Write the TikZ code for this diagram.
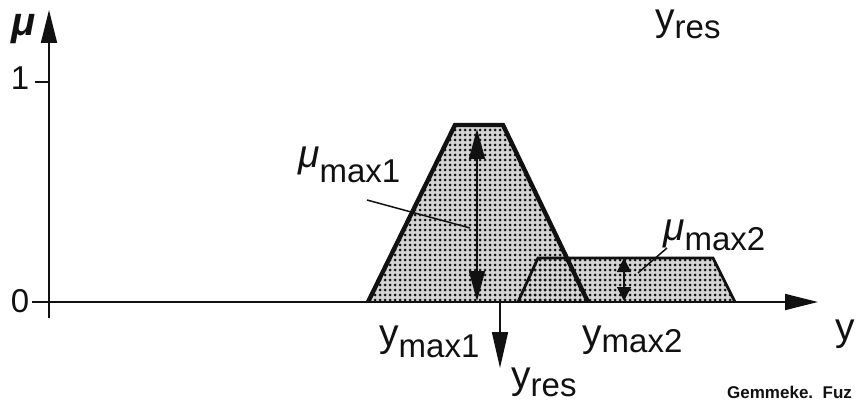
\documentclass[tikz,border=0pt]{standalone}
\usepackage{fontspec}
\setmainfont{Liberation Sans}
\usepackage{xcolor}
\usetikzlibrary{arrows.meta, patterns.meta}
\definecolor{ink}{HTML}{111111}
\tikzdeclarepattern{
  name=screendots,
  type=uncolored,
  bounding box={(-2.5pt,-2.5pt) and (2.5pt,2.5pt)},
  tile size={(5pt,5pt)},
  code={\fill (0pt,0pt) circle (1.5pt);}
}
\tikzset{
  axis/.style={line width=1.8pt, draw=ink},
  axisarrow/.style={axis, -{Triangle[length=33pt,width=16pt]}},
  tickline/.style={line width=1.8pt, draw=ink},
  setfill/.style={pattern=screendots, pattern color=ink},
  setback/.style={fill=ink!18},
  bigset/.style={line width=4.4pt, line join=miter, draw=ink},
  smallset/.style={line width=2.8pt, line join=miter, draw=ink},
  maxarrow/.style={line width=1.5pt, draw=ink, {Triangle[length=30pt,width=16pt]}-{Triangle[length=30pt,width=16pt]}},
  smallmaxarrow/.style={line width=1.5pt, draw=ink, {Triangle[length=14pt,width=14pt]}-{Triangle[length=14pt,width=14pt]}},
  resarrow/.style={line width=1.6pt, draw=ink, -{Triangle[length=36pt,width=16pt]}},
  leader/.style={line width=1.5pt, draw=ink},
  lbl/.style={inner sep=0pt, anchor=base west, text=ink}
}
\newcommand{\biglabel}{\fontsize{39}{41}\selectfont}
\newcommand{\sublabel}{\fontsize{33}{35}\selectfont}
\newcommand{\numlabel}{\fontsize{33}{35}\selectfont}
\newcommand{\smallnote}{\bfseries\fontsize{17}{19}\selectfont}

\begin{document}
\begin{tikzpicture}[x=1pt,y=1pt]
\useasboundingbox (0,0) rectangle (857,405);

% axes
\coordinate (origin) at (49,103);
\coordinate (ybottom) at (49,87);
\coordinate (ytop) at (49,395);
\coordinate (xleft) at (32,103);
\coordinate (xright) at (818,103);
\coordinate (onetick) at (35,323);
\coordinate (oneaxis) at (49,323);

% membership sets
\coordinate (a1) at (368,103);
\coordinate (a2) at (455,280);
\coordinate (a3) at (503,280);
\coordinate (a4) at (588,103);
\coordinate (b1) at (518,103);
\coordinate (b2) at (538,147);
\coordinate (b3) at (713,147);
\coordinate (b4) at (735,103);

\fill[setback] (a1) -- (a2) -- (a3) -- (a4) -- cycle;
\fill[setback] (b1) -- (b2) -- (b3) -- (b4) -- cycle;
\fill[setfill] (a1) -- (a2) -- (a3) -- (a4) -- cycle;
\fill[setfill] (b1) -- (b2) -- (b3) -- (b4) -- cycle;
\draw[smallset] (b1) -- (b2) -- (b3) -- (b4);
\draw[bigset] (a1) -- (a2) -- (a3) -- (a4);

\draw[axis] (ybottom) -- (oneaxis);
\draw[axisarrow] (oneaxis) -- (ytop);
\draw[axisarrow] (xleft) -- (xright);
\draw[tickline] (onetick) -- (oneaxis);

\node[lbl, anchor=base] (mu) at (24,369) {\bfseries\itshape\fontsize{40}{42}\selectfont μ};
\node[lbl, anchor=base] (one) at (20,315) {\numlabel 1};
\node[lbl, anchor=base] (zero) at (20,93) {\numlabel 0};
\node[lbl] (yaxis) at (835,65) {\biglabel y};

% heights
\coordinate (m1top) at (477,276);
\coordinate (m1bot) at (477,104);
\coordinate (m2top) at (624,147);
\coordinate (m2bot) at (624,104);
\draw[maxarrow] (m1bot) -- (m1top);
\draw[smallmaxarrow] (m2bot) -- (m2top);

\node[lbl] (mumax1) at (298,237) {{\biglabel\itshape μ}{\sublabel\raisebox{-15pt}{max1}}};
\node[lbl] (mumax2) at (663,165) {{\biglabel\itshape μ}{\sublabel\raisebox{-10pt}{max2}}};
\coordinate (l1a) at (367,205);
\coordinate (l1b) at (470,177);
\coordinate (l2a) at (667,157);
\coordinate (l2b) at (638,132);
\draw[leader] (l1a) -- (l1b);
\draw[leader] (l2a) -- (l2b);

% result
\coordinate (resaxis) at (500,103);
\coordinate (restip) at (500,37);
\draw[resarrow] (resaxis) -- (restip);

\node[lbl] (ymax1) at (379,59) {{\biglabel y}{\sublabel\raisebox{-11pt}{max1}}};
\node[lbl] (ymax2) at (582,59) {{\biglabel y}{\sublabel\raisebox{-6pt}{max2}}};
\node[lbl] (yres) at (511,17) {{\biglabel y}{\sublabel\raisebox{-8pt}{res}}};
\node[lbl] (yrestop) at (655,374) {{\biglabel y}{\sublabel\raisebox{-8pt}{res}}};

\node[lbl] (note) at (727,7) {\smallnote Gemmeke.\ \ Fuz};

\end{tikzpicture}
\end{document}
